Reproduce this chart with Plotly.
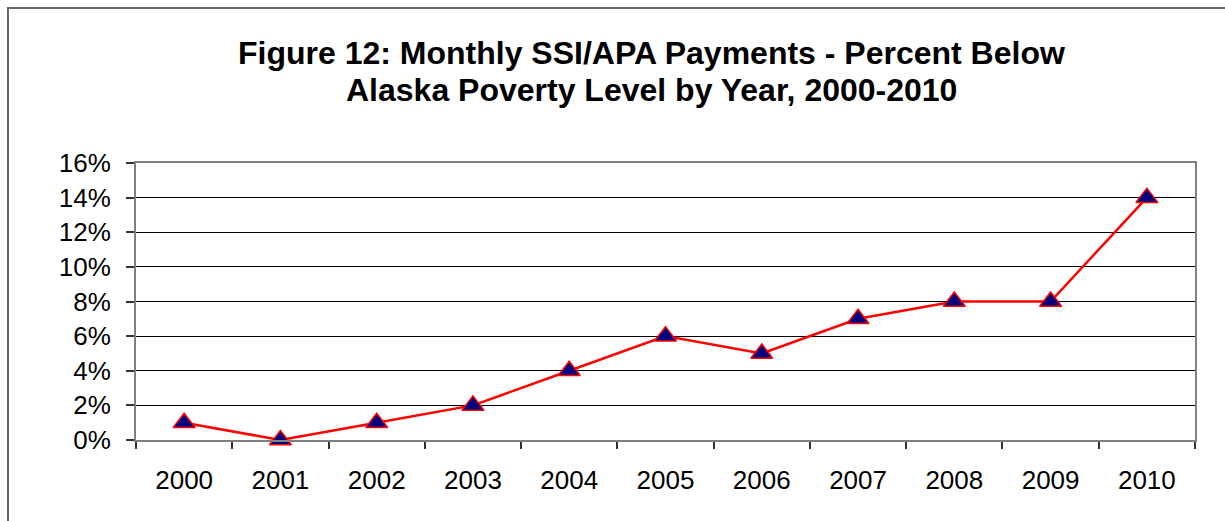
import plotly.graph_objects as go

years = ["2000", "2001", "2002", "2003", "2004", "2005", "2006", "2007", "2008", "2009", "2010"]
pct_below = [1, 0, 1, 2, 4, 6, 5, 7, 8, 8, 14]
y_ticks = [0, 2, 4, 6, 8, 10, 12, 14, 16]
y_tick_labels = [f"{v}%" for v in y_ticks]
title_lines = ["Figure 12: Monthly SSI/APA Payments - Percent Below",
               "Alaska Poverty Level by Year, 2000-2010"]

W, H = 1225, 521
L, R, T, B = 136, 30, 163, 81
pw, ph = W - L - R, H - T - B

def px_x(x):
    return (x - L) / pw

def px_y(y):
    return (H - B - y) / ph

fig = go.Figure()
fig.add_trace(go.Scatter(
    x=years, y=pct_below, mode="lines+markers",
    line=dict(color="#FF0000", width=2.5),
    marker=dict(symbol="triangle-up", size=19, color="#000080",
                line=dict(color="#FF0000", width=1.5)),
    showlegend=False, cliponaxis=False,
))

fig.update_layout(
    width=W, height=H,
    margin=dict(l=L, r=R, t=T, b=B, autoexpand=False),
    paper_bgcolor="white", plot_bgcolor="white",
    font=dict(family="Liberation Sans, Arial, sans-serif", color="black", size=26),
    xaxis=dict(type="category", range=[-0.5, len(years) - 0.5], showgrid=False,
               tickson="boundaries",
               ticks="outside", ticklen=7, tickcolor="#333", tickwidth=1.5,
               showline=True, linecolor="#808080", linewidth=2, mirror=True,
               tickfont=dict(size=26), ticklabelstandoff=16, automargin=False),
    yaxis=dict(range=[0, 16], tickvals=y_ticks, ticktext=y_tick_labels,
               showgrid=True, gridcolor="black", gridwidth=1,
               ticks="outside", ticklen=8, tickcolor="#333", tickwidth=1.5,
               showline=True, linecolor="#808080", linewidth=2, mirror=True,
               zeroline=False, tickfont=dict(size=26), ticklabelstandoff=10,
               automargin=False),
)

for i, (line, yc) in enumerate(zip(title_lines, [53, 90])):
    fig.add_annotation(text=f"<b>{line}</b>", xref="paper", yref="paper",
                       x=px_x(651), y=px_y(yc), xanchor="center", yanchor="middle",
                       showarrow=False, font=dict(size=32, color="black"))

fig.add_shape(type="rect", xref="paper", yref="paper",
              x0=px_x(8), x1=px_x(1240), y0=px_y(540), y1=px_y(8),
              line=dict(color="#666", width=2), fillcolor="rgba(0,0,0,0)", layer="below")

fig.write_html("out.html", config={"displayModeBar": False},
               post_script="document.body.style.margin='0';document.body.style.overflow='hidden';")
